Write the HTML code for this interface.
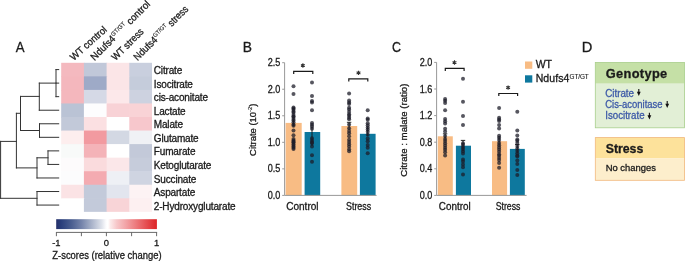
<!DOCTYPE html>
<html><head><meta charset="utf-8"><style>
html,body{margin:0;padding:0;background:#fff;width:685px;height:261px;overflow:hidden}
svg{display:block;will-change:transform}
text{font-family:"Liberation Sans", sans-serif;stroke:#1a1a1a;stroke-width:0.3px}
text.b{stroke:#3d5aa8}
tspan.s{stroke-width:0.12px}
</style></head><body>
<svg width="685" height="261" viewBox="0 0 685 261" fill="#1a1a1a">
<rect x="61.20" y="62.80" width="23.30" height="14.15" fill="#f4b9bf"/>
<rect x="83.90" y="62.80" width="23.30" height="14.15" fill="#c1c8d9"/>
<rect x="106.60" y="62.80" width="23.30" height="14.15" fill="#fbe5e7"/>
<rect x="129.30" y="62.80" width="22.70" height="14.15" fill="#c9cfde"/>
<rect x="61.20" y="76.35" width="23.30" height="14.15" fill="#f4b7bd"/>
<rect x="83.90" y="76.35" width="23.30" height="14.15" fill="#9eaac7"/>
<rect x="106.60" y="76.35" width="23.30" height="14.15" fill="#fbe5e7"/>
<rect x="129.30" y="76.35" width="22.70" height="14.15" fill="#c5ccdb"/>
<rect x="61.20" y="89.90" width="23.30" height="14.15" fill="#f4b7bd"/>
<rect x="83.90" y="89.90" width="23.30" height="14.15" fill="#d5d9e6"/>
<rect x="106.60" y="89.90" width="23.30" height="14.15" fill="#fce8ea"/>
<rect x="129.30" y="89.90" width="22.70" height="14.15" fill="#cdd2e0"/>
<rect x="61.20" y="103.45" width="23.30" height="14.15" fill="#bac3d5"/>
<rect x="83.90" y="103.45" width="23.30" height="14.15" fill="#fdfdfe"/>
<rect x="106.60" y="103.45" width="23.30" height="14.15" fill="#f8d2d6"/>
<rect x="129.30" y="103.45" width="22.70" height="14.15" fill="#f9d3d6"/>
<rect x="61.20" y="117.00" width="23.30" height="14.15" fill="#c2c9d9"/>
<rect x="83.90" y="117.00" width="23.30" height="14.15" fill="#fbe0e2"/>
<rect x="106.60" y="117.00" width="23.30" height="14.15" fill="#ffffff"/>
<rect x="129.30" y="117.00" width="22.70" height="14.15" fill="#f7c7cc"/>
<rect x="61.20" y="130.55" width="23.30" height="14.15" fill="#fdeeee"/>
<rect x="83.90" y="130.55" width="23.30" height="14.15" fill="#f29aa0"/>
<rect x="106.60" y="130.55" width="23.30" height="14.15" fill="#d3d8e3"/>
<rect x="129.30" y="130.55" width="22.70" height="14.15" fill="#f0f1f5"/>
<rect x="61.20" y="144.10" width="23.30" height="14.15" fill="#f8faf9"/>
<rect x="83.90" y="144.10" width="23.30" height="14.15" fill="#f4b3b8"/>
<rect x="106.60" y="144.10" width="23.30" height="14.15" fill="#ffffff"/>
<rect x="129.30" y="144.10" width="22.70" height="14.15" fill="#c3c9d9"/>
<rect x="61.20" y="157.65" width="23.30" height="14.15" fill="#fdfbfc"/>
<rect x="83.90" y="157.65" width="23.30" height="14.15" fill="#fadbdd"/>
<rect x="106.60" y="157.65" width="23.30" height="14.15" fill="#fbe7e9"/>
<rect x="129.30" y="157.65" width="22.70" height="14.15" fill="#c6ccdb"/>
<rect x="61.20" y="171.20" width="23.30" height="14.15" fill="#fcfcfd"/>
<rect x="83.90" y="171.20" width="23.30" height="14.15" fill="#f4abb1"/>
<rect x="106.60" y="171.20" width="23.30" height="14.15" fill="#eef0f5"/>
<rect x="129.30" y="171.20" width="22.70" height="14.15" fill="#cfd4e1"/>
<rect x="61.20" y="184.75" width="23.30" height="14.15" fill="#fbe3e5"/>
<rect x="83.90" y="184.75" width="23.30" height="14.15" fill="#c3cada"/>
<rect x="106.60" y="184.75" width="23.30" height="14.15" fill="#e2e5ee"/>
<rect x="129.30" y="184.75" width="22.70" height="14.15" fill="#fdf3f4"/>
<rect x="61.20" y="198.30" width="23.30" height="13.55" fill="#ffffff"/>
<rect x="83.90" y="198.30" width="23.30" height="13.55" fill="#c3cada"/>
<rect x="106.60" y="198.30" width="23.30" height="13.55" fill="#f8d4d7"/>
<rect x="129.30" y="198.30" width="22.70" height="13.55" fill="#fdf0f1"/>
<text x="153.8" y="74.17" font-size="10" letter-spacing="-0.16">Citrate</text>
<text x="153.8" y="87.72" font-size="10" letter-spacing="-0.16">Isocitrate</text>
<text x="153.8" y="101.27" font-size="10" letter-spacing="-0.16">cis-aconitate</text>
<text x="153.8" y="114.82" font-size="10" letter-spacing="-0.16">Lactate</text>
<text x="153.8" y="128.38" font-size="10" letter-spacing="-0.16">Malate</text>
<text x="153.8" y="141.92" font-size="10" letter-spacing="-0.16">Glutamate</text>
<text x="153.8" y="155.47" font-size="10" letter-spacing="-0.16">Fumarate</text>
<text x="153.8" y="169.03" font-size="10" letter-spacing="-0.16">Ketoglutarate</text>
<text x="153.8" y="182.58" font-size="10" letter-spacing="-0.16">Succinate</text>
<text x="153.8" y="196.12" font-size="10" letter-spacing="-0.16">Aspartate</text>
<text x="153.8" y="209.67" font-size="10" letter-spacing="-0.16">2-Hydroxyglutarate</text>
<text x="73.8" y="61.0" font-size="10" textLength="45.6" lengthAdjust="spacingAndGlyphs" transform="rotate(-42 73.8 61.0)">WT control</text>
<text x="94.6" y="61.0" font-size="10" textLength="79.5" lengthAdjust="spacingAndGlyphs" transform="rotate(-45 94.6 61.0)">Ndufs4<tspan class="s" font-size="6" dy="-4">GT/GT</tspan><tspan dy="4"> control</tspan></text>
<text x="115.6" y="61.0" font-size="10" textLength="40.6" lengthAdjust="spacingAndGlyphs" transform="rotate(-45 115.6 61.0)">WT stress</text>
<text x="137.6" y="61.0" font-size="10" textLength="72.5" lengthAdjust="spacingAndGlyphs" transform="rotate(-45 137.6 61.0)">Ndufs4<tspan class="s" font-size="6" dy="-4">GT/GT</tspan><tspan dy="4"> stress</tspan></text>
<path d="M56.00 69.58V96.67 M56.00 69.58H58.70 M56.00 83.12H58.70 M56.00 96.67H58.70 M39.30 83.12H56.00 M39.30 83.12V110.22 M39.30 110.22H58.70 M20.50 96.40H39.30 M20.50 96.40V130.50 M20.50 130.50H39.50 M39.50 123.78V137.32 M39.50 123.78H58.70 M39.50 137.32H58.70 M16.40 113.30H20.50 M16.40 113.30V167.90 M0.60 141.40H16.40 M0.60 141.40V198.30 M0.60 198.30H37.00 M37.00 191.52V205.07 M37.00 191.52H58.70 M37.00 205.07H58.70 M16.40 167.90H37.00 M37.00 157.80V177.98 M37.00 177.98H58.70 M37.00 157.80H48.00 M48.00 150.88V164.43 M48.00 150.88H58.70 M48.00 164.43H58.70" stroke="#333" stroke-width="1" fill="none" stroke-linecap="square"/>
<text x="15.8" y="51.6" font-size="14.7" textLength="8.8" lengthAdjust="spacingAndGlyphs">A</text>
<text x="242.7" y="51.6" font-size="14.7" textLength="9.2" lengthAdjust="spacingAndGlyphs">B</text>
<text x="392.0" y="52.0" font-size="14.7" textLength="9.0" lengthAdjust="spacingAndGlyphs">C</text>
<text x="581.8" y="51.8" font-size="14.7" textLength="10.6" lengthAdjust="spacingAndGlyphs">D</text>
<defs><linearGradient id="cb" x1="0" x2="1" y1="0" y2="0">
<stop offset="0" stop-color="#25306a"/><stop offset="0.05" stop-color="#2a3f7c"/>
<stop offset="0.15" stop-color="#4a5e90"/><stop offset="0.25" stop-color="#7483aa"/>
<stop offset="0.35" stop-color="#a8b2c9"/><stop offset="0.45" stop-color="#dde1ea"/>
<stop offset="0.49" stop-color="#f8f8fb"/><stop offset="0.505" stop-color="#ffffff"/>
<stop offset="0.515" stop-color="#ffffff"/><stop offset="0.535" stop-color="#fcecec"/><stop offset="0.6" stop-color="#f7c8ca"/>
<stop offset="0.7" stop-color="#f2a0a3"/><stop offset="0.8" stop-color="#ec7679"/>
<stop offset="0.9" stop-color="#e54c4f"/><stop offset="1" stop-color="#dd2326"/>
</linearGradient></defs>
<rect x="56.2" y="219.2" width="100.7" height="9.9" fill="url(#cb)"/>
<path d="M56.2 232.4H157.1 M56.4 232V236.2 M81.4 232V236.2 M106.4 232V236.2 M131.6 232V236.2 M156.6 232V236.2" stroke="#6a6a6a" stroke-width="1" fill="none"/>
<text x="56.4" y="245.5" font-size="9.4" text-anchor="middle">-1</text>
<text x="106.4" y="245.5" font-size="9.4" text-anchor="middle">0</text>
<text x="156.6" y="245.5" font-size="9.4" text-anchor="middle">1</text>
<text x="52.3" y="258.8" font-size="10" textLength="109.3" lengthAdjust="spacingAndGlyphs">Z-scores (relative change)</text>
<rect x="285.6" y="122.9" width="16.10" height="72.50" fill="#f8bc84"/>
<rect x="304.6" y="132.0" width="15.60" height="63.40" fill="#0e789e"/>
<rect x="341.4" y="126.0" width="15.80" height="69.40" fill="#f8bc84"/>
<rect x="359.9" y="133.8" width="15.70" height="61.60" fill="#0e789e"/>
<path d="M284.6 62.7V195.4H376.6 M282.20000000000005 195.40H284.6 M282.20000000000005 168.86H284.6 M282.20000000000005 142.32H284.6 M282.20000000000005 115.78H284.6 M282.20000000000005 89.24H284.6 M282.20000000000005 62.70H284.6" stroke="#999" stroke-width="1" fill="none"/>
<text x="280.3" y="198.90" font-size="10" text-anchor="end" textLength="12.6" lengthAdjust="spacingAndGlyphs">0.0</text>
<text x="280.3" y="172.36" font-size="10" text-anchor="end" textLength="12.6" lengthAdjust="spacingAndGlyphs">0.5</text>
<text x="280.3" y="145.82" font-size="10" text-anchor="end" textLength="12.6" lengthAdjust="spacingAndGlyphs">1.0</text>
<text x="280.3" y="119.28" font-size="10" text-anchor="end" textLength="12.6" lengthAdjust="spacingAndGlyphs">1.5</text>
<text x="280.3" y="92.74" font-size="10" text-anchor="end" textLength="12.6" lengthAdjust="spacingAndGlyphs">2.0</text>
<text x="280.3" y="66.20" font-size="10" text-anchor="end" textLength="12.6" lengthAdjust="spacingAndGlyphs">2.5</text>
<text x="255.8" y="129.75" font-size="9.5" text-anchor="middle" textLength="52.3" lengthAdjust="spacingAndGlyphs" transform="rotate(-90 255.8 129.75)">Citrate (10<tspan class="s" font-size="6" dy="-3.5">-2</tspan><tspan dy="3.5">)</tspan></text>
<path d="M293.5 119.5V126.5" stroke="#111" stroke-width="0.9" fill="none"/>
<path d="M312.0 127.5V146" stroke="#111" stroke-width="0.9" fill="none"/>
<path d="M349.1 122.3V129.5M346.90000000000003 122.3H351.3" stroke="#111" stroke-width="0.9" fill="none"/>
<path d="M367.7 127V136" stroke="#111" stroke-width="0.9" fill="none"/>
<path d="M293.7 74.0V71.4H312.8V74.0" stroke="#1a1a1a" stroke-width="1.2" fill="none"/>
<path d="M302.90 67.70L302.90 63.30 M304.81 66.60L300.99 64.40 M300.99 66.60L304.81 64.40" stroke="#333" stroke-width="1.1" fill="none"/>
<path d="M348.8 81.39999999999999V78.8H367.8V81.39999999999999" stroke="#1a1a1a" stroke-width="1.2" fill="none"/>
<path d="M358.50 75.10L358.50 70.70 M360.41 74.00L356.59 71.80 M356.59 74.00L360.41 71.80" stroke="#333" stroke-width="1.1" fill="none"/>
<circle cx="293.5" cy="86.3" r="2.0" fill="#1c1c28" fill-opacity="0.74"/>
<circle cx="293.5" cy="94.1" r="2.0" fill="#1c1c28" fill-opacity="0.74"/>
<circle cx="293.5" cy="107.4" r="2.0" fill="#1c1c28" fill-opacity="0.74"/>
<circle cx="293.5" cy="108.4" r="2.0" fill="#1c1c28" fill-opacity="0.74"/>
<circle cx="293.5" cy="109.8" r="2.0" fill="#1c1c28" fill-opacity="0.74"/>
<circle cx="293.5" cy="111.5" r="2.0" fill="#1c1c28" fill-opacity="0.74"/>
<circle cx="293.5" cy="112.8" r="2.0" fill="#1c1c28" fill-opacity="0.74"/>
<circle cx="293.5" cy="114.9" r="2.0" fill="#1c1c28" fill-opacity="0.74"/>
<circle cx="293.5" cy="116.4" r="2.0" fill="#1c1c28" fill-opacity="0.74"/>
<circle cx="293.5" cy="117.1" r="2.0" fill="#1c1c28" fill-opacity="0.74"/>
<circle cx="293.5" cy="119" r="2.0" fill="#1c1c28" fill-opacity="0.74"/>
<circle cx="293.5" cy="120.4" r="2.0" fill="#1c1c28" fill-opacity="0.74"/>
<circle cx="293.5" cy="122.2" r="2.0" fill="#1c1c28" fill-opacity="0.74"/>
<circle cx="293.5" cy="124.4" r="2.0" fill="#1c1c28" fill-opacity="0.74"/>
<circle cx="293.5" cy="125.8" r="2.0" fill="#1c1c28" fill-opacity="0.74"/>
<circle cx="293.5" cy="130.6" r="2.0" fill="#1c1c28" fill-opacity="0.74"/>
<circle cx="293.5" cy="135.3" r="2.0" fill="#1c1c28" fill-opacity="0.74"/>
<circle cx="293.5" cy="138.9" r="2.0" fill="#1c1c28" fill-opacity="0.74"/>
<circle cx="293.5" cy="140.4" r="2.0" fill="#1c1c28" fill-opacity="0.74"/>
<circle cx="293.5" cy="141.8" r="2.0" fill="#1c1c28" fill-opacity="0.74"/>
<circle cx="293.5" cy="142.2" r="2.0" fill="#1c1c28" fill-opacity="0.74"/>
<circle cx="293.5" cy="144" r="2.0" fill="#1c1c28" fill-opacity="0.74"/>
<circle cx="293.5" cy="145.1" r="2.0" fill="#1c1c28" fill-opacity="0.74"/>
<circle cx="293.5" cy="146.5" r="2.0" fill="#1c1c28" fill-opacity="0.74"/>
<circle cx="293.5" cy="147.7" r="2.0" fill="#1c1c28" fill-opacity="0.74"/>
<circle cx="293.5" cy="149" r="2.0" fill="#1c1c28" fill-opacity="0.74"/>
<circle cx="312.0" cy="82.6" r="2.0" fill="#1c1c28" fill-opacity="0.74"/>
<circle cx="312.0" cy="96" r="2.0" fill="#1c1c28" fill-opacity="0.74"/>
<circle cx="312.0" cy="101.1" r="2.0" fill="#1c1c28" fill-opacity="0.74"/>
<circle cx="312.0" cy="102.6" r="2.0" fill="#1c1c28" fill-opacity="0.74"/>
<circle cx="312.0" cy="110.3" r="2.0" fill="#1c1c28" fill-opacity="0.74"/>
<circle cx="312.0" cy="122.9" r="2.0" fill="#1c1c28" fill-opacity="0.74"/>
<circle cx="312.0" cy="124.8" r="2.0" fill="#1c1c28" fill-opacity="0.74"/>
<circle cx="312.0" cy="126.6" r="2.0" fill="#1c1c28" fill-opacity="0.74"/>
<circle cx="312.0" cy="128.7" r="2.0" fill="#1c1c28" fill-opacity="0.74"/>
<circle cx="312.0" cy="138.2" r="2.0" fill="#1c1c28" fill-opacity="0.74"/>
<circle cx="312.0" cy="140.4" r="2.0" fill="#1c1c28" fill-opacity="0.74"/>
<circle cx="312.0" cy="142.2" r="2.0" fill="#1c1c28" fill-opacity="0.74"/>
<circle cx="312.0" cy="143.3" r="2.0" fill="#1c1c28" fill-opacity="0.74"/>
<circle cx="312.0" cy="146.5" r="2.0" fill="#1c1c28" fill-opacity="0.74"/>
<circle cx="312.0" cy="155.3" r="2.0" fill="#1c1c28" fill-opacity="0.74"/>
<circle cx="312.0" cy="161.8" r="2.0" fill="#1c1c28" fill-opacity="0.74"/>
<circle cx="349.1" cy="93.4" r="2.0" fill="#1c1c28" fill-opacity="0.74"/>
<circle cx="349.1" cy="100.4" r="2.0" fill="#1c1c28" fill-opacity="0.74"/>
<circle cx="349.1" cy="102.6" r="2.0" fill="#1c1c28" fill-opacity="0.74"/>
<circle cx="349.1" cy="104" r="2.0" fill="#1c1c28" fill-opacity="0.74"/>
<circle cx="349.1" cy="107.7" r="2.0" fill="#1c1c28" fill-opacity="0.74"/>
<circle cx="349.1" cy="109.5" r="2.0" fill="#1c1c28" fill-opacity="0.74"/>
<circle cx="349.1" cy="112" r="2.0" fill="#1c1c28" fill-opacity="0.74"/>
<circle cx="349.1" cy="114.2" r="2.0" fill="#1c1c28" fill-opacity="0.74"/>
<circle cx="349.1" cy="115.7" r="2.0" fill="#1c1c28" fill-opacity="0.74"/>
<circle cx="349.1" cy="117.8" r="2.0" fill="#1c1c28" fill-opacity="0.74"/>
<circle cx="349.1" cy="119.3" r="2.0" fill="#1c1c28" fill-opacity="0.74"/>
<circle cx="349.1" cy="124.5" r="2.0" fill="#1c1c28" fill-opacity="0.74"/>
<circle cx="349.1" cy="128.2" r="2.0" fill="#1c1c28" fill-opacity="0.74"/>
<circle cx="349.1" cy="131.1" r="2.0" fill="#1c1c28" fill-opacity="0.74"/>
<circle cx="349.1" cy="133.3" r="2.0" fill="#1c1c28" fill-opacity="0.74"/>
<circle cx="349.1" cy="136.2" r="2.0" fill="#1c1c28" fill-opacity="0.74"/>
<circle cx="349.1" cy="139.8" r="2.0" fill="#1c1c28" fill-opacity="0.74"/>
<circle cx="349.1" cy="142" r="2.0" fill="#1c1c28" fill-opacity="0.74"/>
<circle cx="349.1" cy="144.2" r="2.0" fill="#1c1c28" fill-opacity="0.74"/>
<circle cx="349.1" cy="146.4" r="2.0" fill="#1c1c28" fill-opacity="0.74"/>
<circle cx="349.1" cy="149.3" r="2.0" fill="#1c1c28" fill-opacity="0.74"/>
<circle cx="349.1" cy="151.2" r="2.0" fill="#1c1c28" fill-opacity="0.74"/>
<circle cx="367.7" cy="110.3" r="2.0" fill="#1c1c28" fill-opacity="0.74"/>
<circle cx="367.7" cy="118.6" r="2.0" fill="#1c1c28" fill-opacity="0.74"/>
<circle cx="367.7" cy="119.7" r="2.0" fill="#1c1c28" fill-opacity="0.74"/>
<circle cx="367.7" cy="123.2" r="2.0" fill="#1c1c28" fill-opacity="0.74"/>
<circle cx="367.7" cy="125.3" r="2.0" fill="#1c1c28" fill-opacity="0.74"/>
<circle cx="367.7" cy="127.5" r="2.0" fill="#1c1c28" fill-opacity="0.74"/>
<circle cx="367.7" cy="129.6" r="2.0" fill="#1c1c28" fill-opacity="0.74"/>
<circle cx="367.7" cy="131.8" r="2.0" fill="#1c1c28" fill-opacity="0.74"/>
<circle cx="367.7" cy="134.7" r="2.0" fill="#1c1c28" fill-opacity="0.74"/>
<circle cx="367.7" cy="138.4" r="2.0" fill="#1c1c28" fill-opacity="0.74"/>
<circle cx="367.7" cy="141.3" r="2.0" fill="#1c1c28" fill-opacity="0.74"/>
<circle cx="367.7" cy="144.9" r="2.0" fill="#1c1c28" fill-opacity="0.74"/>
<circle cx="367.7" cy="147.8" r="2.0" fill="#1c1c28" fill-opacity="0.74"/>
<circle cx="367.7" cy="153.2" r="2.0" fill="#1c1c28" fill-opacity="0.74"/>
<text x="302.4" y="209.5" font-size="10.2" text-anchor="middle" textLength="32.4" lengthAdjust="spacingAndGlyphs">Control</text>
<text x="358.6" y="209.5" font-size="10.2" text-anchor="middle" textLength="25.2" lengthAdjust="spacingAndGlyphs">Stress</text>
<rect x="437.8" y="136.3" width="15.00" height="59.10" fill="#f8bc84"/>
<rect x="455.9" y="145.7" width="15.10" height="49.70" fill="#0e789e"/>
<rect x="492.0" y="141.2" width="15.10" height="54.20" fill="#f8bc84"/>
<rect x="509.9" y="148.9" width="14.90" height="46.50" fill="#0e789e"/>
<path d="M436.6 62.4V195.4H526.6 M434.20000000000005 195.40H436.6 M434.20000000000005 168.80H436.6 M434.20000000000005 142.20H436.6 M434.20000000000005 115.60H436.6 M434.20000000000005 89.00H436.6 M434.20000000000005 62.40H436.6" stroke="#999" stroke-width="1" fill="none"/>
<text x="432.3" y="198.90" font-size="10" text-anchor="end" textLength="12.6" lengthAdjust="spacingAndGlyphs">0.0</text>
<text x="432.3" y="172.30" font-size="10" text-anchor="end" textLength="12.6" lengthAdjust="spacingAndGlyphs">0.4</text>
<text x="432.3" y="145.70" font-size="10" text-anchor="end" textLength="12.6" lengthAdjust="spacingAndGlyphs">0.8</text>
<text x="432.3" y="119.10" font-size="10" text-anchor="end" textLength="12.6" lengthAdjust="spacingAndGlyphs">1.2</text>
<text x="432.3" y="92.50" font-size="10" text-anchor="end" textLength="12.6" lengthAdjust="spacingAndGlyphs">1.6</text>
<text x="432.3" y="65.90" font-size="10" text-anchor="end" textLength="12.6" lengthAdjust="spacingAndGlyphs">2.0</text>
<text x="407.2" y="130.2" font-size="9.5" text-anchor="middle" textLength="93.2" lengthAdjust="spacingAndGlyphs" transform="rotate(-90 407.2 130.2)">Citrate : malate (ratio)</text>
<path d="M445.1 133.8V139M442.90000000000003 133.8H447.3" stroke="#111" stroke-width="0.9" fill="none"/>
<path d="M463.0 140.4V151M460.8 140.4H465.2" stroke="#111" stroke-width="0.9" fill="none"/>
<path d="M499.1 136.5V146.5" stroke="#111" stroke-width="0.9" fill="none"/>
<path d="M517.3 144.5V153M515.0999999999999 144.5H519.5" stroke="#111" stroke-width="0.9" fill="none"/>
<path d="M445.3 71.0V68.4H464.1V71.0" stroke="#1a1a1a" stroke-width="1.2" fill="none"/>
<path d="M454.50 64.70L454.50 60.30 M456.41 63.60L452.59 61.40 M452.59 63.60L456.41 61.40" stroke="#333" stroke-width="1.1" fill="none"/>
<path d="M498.8 96.1V93.5H517.6V96.1" stroke="#1a1a1a" stroke-width="1.2" fill="none"/>
<path d="M508.10 89.80L508.10 85.40 M510.01 88.70L506.19 86.50 M506.19 88.70L510.01 86.50" stroke="#333" stroke-width="1.1" fill="none"/>
<circle cx="445.1" cy="99.1" r="2.0" fill="#1c1c28" fill-opacity="0.74"/>
<circle cx="445.1" cy="100.8" r="2.0" fill="#1c1c28" fill-opacity="0.74"/>
<circle cx="445.1" cy="103" r="2.0" fill="#1c1c28" fill-opacity="0.74"/>
<circle cx="445.1" cy="110.3" r="2.0" fill="#1c1c28" fill-opacity="0.74"/>
<circle cx="445.1" cy="119" r="2.0" fill="#1c1c28" fill-opacity="0.74"/>
<circle cx="445.1" cy="121.2" r="2.0" fill="#1c1c28" fill-opacity="0.74"/>
<circle cx="445.1" cy="123.4" r="2.0" fill="#1c1c28" fill-opacity="0.74"/>
<circle cx="445.1" cy="128.8" r="2.0" fill="#1c1c28" fill-opacity="0.74"/>
<circle cx="445.1" cy="131.5" r="2.0" fill="#1c1c28" fill-opacity="0.74"/>
<circle cx="445.1" cy="136" r="2.0" fill="#1c1c28" fill-opacity="0.74"/>
<circle cx="445.1" cy="138.9" r="2.0" fill="#1c1c28" fill-opacity="0.74"/>
<circle cx="445.1" cy="141.1" r="2.0" fill="#1c1c28" fill-opacity="0.74"/>
<circle cx="445.1" cy="143.3" r="2.0" fill="#1c1c28" fill-opacity="0.74"/>
<circle cx="445.1" cy="145.5" r="2.0" fill="#1c1c28" fill-opacity="0.74"/>
<circle cx="445.1" cy="147.7" r="2.0" fill="#1c1c28" fill-opacity="0.74"/>
<circle cx="445.1" cy="149.8" r="2.0" fill="#1c1c28" fill-opacity="0.74"/>
<circle cx="445.1" cy="152.3" r="2.0" fill="#1c1c28" fill-opacity="0.74"/>
<circle cx="445.1" cy="155.5" r="2.0" fill="#1c1c28" fill-opacity="0.74"/>
<circle cx="463.0" cy="78.8" r="2.0" fill="#1c1c28" fill-opacity="0.74"/>
<circle cx="463.0" cy="101.8" r="2.0" fill="#1c1c28" fill-opacity="0.74"/>
<circle cx="463.0" cy="116.1" r="2.0" fill="#1c1c28" fill-opacity="0.74"/>
<circle cx="463.0" cy="125.1" r="2.0" fill="#1c1c28" fill-opacity="0.74"/>
<circle cx="463.0" cy="143.3" r="2.0" fill="#1c1c28" fill-opacity="0.74"/>
<circle cx="463.0" cy="144.7" r="2.0" fill="#1c1c28" fill-opacity="0.74"/>
<circle cx="463.0" cy="146.9" r="2.0" fill="#1c1c28" fill-opacity="0.74"/>
<circle cx="463.0" cy="149.1" r="2.0" fill="#1c1c28" fill-opacity="0.74"/>
<circle cx="463.0" cy="151.3" r="2.0" fill="#1c1c28" fill-opacity="0.74"/>
<circle cx="463.0" cy="153.6" r="2.0" fill="#1c1c28" fill-opacity="0.74"/>
<circle cx="463.0" cy="159.5" r="2.0" fill="#1c1c28" fill-opacity="0.74"/>
<circle cx="463.0" cy="161.6" r="2.0" fill="#1c1c28" fill-opacity="0.74"/>
<circle cx="463.0" cy="164.6" r="2.0" fill="#1c1c28" fill-opacity="0.74"/>
<circle cx="463.0" cy="167.2" r="2.0" fill="#1c1c28" fill-opacity="0.74"/>
<circle cx="463.0" cy="174.5" r="2.0" fill="#1c1c28" fill-opacity="0.74"/>
<circle cx="499.1" cy="108.1" r="2.0" fill="#1c1c28" fill-opacity="0.74"/>
<circle cx="499.1" cy="117.7" r="2.0" fill="#1c1c28" fill-opacity="0.74"/>
<circle cx="499.1" cy="119.5" r="2.0" fill="#1c1c28" fill-opacity="0.74"/>
<circle cx="499.1" cy="120.9" r="2.0" fill="#1c1c28" fill-opacity="0.74"/>
<circle cx="499.1" cy="125" r="2.0" fill="#1c1c28" fill-opacity="0.74"/>
<circle cx="499.1" cy="128.5" r="2.0" fill="#1c1c28" fill-opacity="0.74"/>
<circle cx="499.1" cy="135.8" r="2.0" fill="#1c1c28" fill-opacity="0.74"/>
<circle cx="499.1" cy="137.8" r="2.0" fill="#1c1c28" fill-opacity="0.74"/>
<circle cx="499.1" cy="140.1" r="2.0" fill="#1c1c28" fill-opacity="0.74"/>
<circle cx="499.1" cy="143" r="2.0" fill="#1c1c28" fill-opacity="0.74"/>
<circle cx="499.1" cy="145.2" r="2.0" fill="#1c1c28" fill-opacity="0.74"/>
<circle cx="499.1" cy="147.4" r="2.0" fill="#1c1c28" fill-opacity="0.74"/>
<circle cx="499.1" cy="149.6" r="2.0" fill="#1c1c28" fill-opacity="0.74"/>
<circle cx="499.1" cy="151.7" r="2.0" fill="#1c1c28" fill-opacity="0.74"/>
<circle cx="499.1" cy="154.2" r="2.0" fill="#1c1c28" fill-opacity="0.74"/>
<circle cx="499.1" cy="155.7" r="2.0" fill="#1c1c28" fill-opacity="0.74"/>
<circle cx="499.1" cy="157.9" r="2.0" fill="#1c1c28" fill-opacity="0.74"/>
<circle cx="499.1" cy="160.1" r="2.0" fill="#1c1c28" fill-opacity="0.74"/>
<circle cx="499.1" cy="163" r="2.0" fill="#1c1c28" fill-opacity="0.74"/>
<circle cx="499.1" cy="167.8" r="2.0" fill="#1c1c28" fill-opacity="0.74"/>
<circle cx="517.3" cy="111.8" r="2.0" fill="#1c1c28" fill-opacity="0.74"/>
<circle cx="517.3" cy="130.4" r="2.0" fill="#1c1c28" fill-opacity="0.74"/>
<circle cx="517.3" cy="135.5" r="2.0" fill="#1c1c28" fill-opacity="0.74"/>
<circle cx="517.3" cy="139.6" r="2.0" fill="#1c1c28" fill-opacity="0.74"/>
<circle cx="517.3" cy="140.8" r="2.0" fill="#1c1c28" fill-opacity="0.74"/>
<circle cx="517.3" cy="143" r="2.0" fill="#1c1c28" fill-opacity="0.74"/>
<circle cx="517.3" cy="145.9" r="2.0" fill="#1c1c28" fill-opacity="0.74"/>
<circle cx="517.3" cy="148.4" r="2.0" fill="#1c1c28" fill-opacity="0.74"/>
<circle cx="517.3" cy="150.7" r="2.0" fill="#1c1c28" fill-opacity="0.74"/>
<circle cx="517.3" cy="153.2" r="2.0" fill="#1c1c28" fill-opacity="0.74"/>
<circle cx="517.3" cy="155.4" r="2.0" fill="#1c1c28" fill-opacity="0.74"/>
<circle cx="517.3" cy="156.5" r="2.0" fill="#1c1c28" fill-opacity="0.74"/>
<circle cx="517.3" cy="160.5" r="2.0" fill="#1c1c28" fill-opacity="0.74"/>
<circle cx="517.3" cy="164" r="2.0" fill="#1c1c28" fill-opacity="0.74"/>
<circle cx="517.3" cy="170" r="2.0" fill="#1c1c28" fill-opacity="0.74"/>
<circle cx="517.3" cy="174.9" r="2.0" fill="#1c1c28" fill-opacity="0.74"/>
<text x="454.7" y="209.5" font-size="10.2" text-anchor="middle" textLength="31.8" lengthAdjust="spacingAndGlyphs">Control</text>
<text x="508.1" y="209.5" font-size="10.2" text-anchor="middle" textLength="24.8" lengthAdjust="spacingAndGlyphs">Stress</text>
<rect x="525" y="61.5" width="7.3" height="7.3" fill="#f8bc84"/>
<rect x="525" y="75.3" width="7.3" height="7.3" fill="#0e789e"/>
<text x="535.7" y="68.1" font-size="10.5">WT</text>
<text x="535.7" y="81.9" font-size="10.5" letter-spacing="0.1">Ndufs4<tspan class="s" font-size="6.4" dy="-3.2" letter-spacing="-0.1">GT/GT</tspan></text>
<rect x="595.3" y="62.4" width="89.2" height="21.3" fill="#c5e0a6"/>
<rect x="595.3" y="83.7" width="89.2" height="44.1" fill="#e2efd6"/>
<rect x="595.3" y="62.4" width="89.2" height="65.4" fill="none" stroke="#a9cf8c" stroke-width="0.8"/>
<text x="605.8" y="78.1" font-size="12.8" font-weight="bold" fill="#1a1a1a" textLength="61.4" lengthAdjust="spacing">Genotype</text>
<text class="b" x="605.2" y="96.8" font-size="10" fill="#3d5aa8" textLength="28.8" lengthAdjust="spacingAndGlyphs">Citrate</text>
<text class="b" x="605.2" y="108.0" font-size="10" fill="#3d5aa8" textLength="57.4" lengthAdjust="spacingAndGlyphs">Cis-aconitase</text>
<text class="b" x="605.2" y="119.1" font-size="10" fill="#3d5aa8" textLength="39.4" lengthAdjust="spacingAndGlyphs">Isocitrate</text>
<path d="M638.8 89.0V92.6" stroke="#111" stroke-width="1.1"/>
<path d="M636.9 91.8L640.6999999999999 91.8L638.8 96.1Z" fill="#111"/>
<path d="M667.2 100.9V104.5" stroke="#111" stroke-width="1.1"/>
<path d="M665.3000000000001 103.7L669.1 103.7L667.2 108.0Z" fill="#111"/>
<path d="M649.4 112.7V116.0" stroke="#111" stroke-width="1.1"/>
<path d="M647.5 115.2L651.3 115.2L649.4 119.5Z" fill="#111"/>
<rect x="595.3" y="137.6" width="89.2" height="20.8" fill="#fde29b"/>
<rect x="595.3" y="158.4" width="89.2" height="21.9" fill="#fdeecc"/>
<rect x="595.3" y="137.6" width="89.2" height="42.7" fill="none" stroke="#f1b87c" stroke-width="0.8"/>
<text x="605.7" y="152.7" font-size="12.3" font-weight="bold" fill="#1a1a1a">Stress</text>
<text x="605.7" y="170.8" font-size="9.6" fill="#1a1a1a" textLength="50.2" lengthAdjust="spacingAndGlyphs">No changes</text>
</svg>
</body></html>
